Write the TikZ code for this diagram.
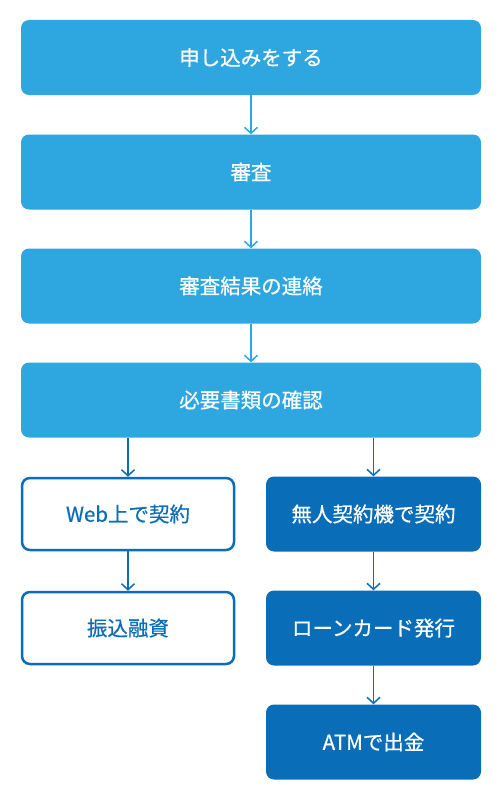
\documentclass[tikz,border=0pt]{standalone}
\usepackage{fontspec}
\newfontfamily\jp{Noto Sans CJK JP}[FakeBold=0.6]
\usetikzlibrary{arrows.meta}
\definecolor{lightb}{HTML}{2EA7E0}
\definecolor{darkb}{HTML}{0A6DB7}
\begin{document}
\begin{tikzpicture}[x=1pt,y=-1pt,
  base/.style={rounded corners=8pt, minimum width=460pt, minimum height=75pt, inner sep=0pt, font=\jp\fontsize{20.5}{24}\selectfont},
  lbox/.style={base, fill=lightb, text=white},
  dbox/.style={base, minimum width=215pt, fill=darkb, text=white},
  wbox/.style={base, minimum width=212pt, minimum height=72pt, draw=darkb, line width=2.5pt, fill=white, text=darkb},
  larr/.style={draw=lightb, line width=1.5pt, -{Straight Barb[length=6pt,width=13pt,line width=1.5pt]}},
  darr/.style={draw=darkb, line width=1.5pt, -{Straight Barb[length=6pt,width=13pt,line width=1.5pt]}}]
\useasboundingbox (0,0) rectangle (500,800);
\node[lbox] (a) at (251,57.5) {申し込みをする};
\node[lbox] (b) at (251,172) {審査};
\node[lbox] (c) at (251,286) {審査結果の連絡};
\node[lbox] (d) at (251,400) {必要書類の確認};
\node[wbox] (e) at (128,514) {Web上で契約};
\node[wbox] (f) at (128,628) {振込融資};
\node[dbox] (g) at (373.5,514) {無人契約機で契約};
\node[dbox] (h) at (373.5,628) {ローンカード発行};
\node[dbox] (i) at (373.5,742) {ATMで出金};
\draw[larr] (a) -- (b);
\draw[larr] (b) -- (c);
\draw[larr] (c) -- (d);
\draw[darr] (d.south -| e) -- (e);
\draw[darr] (d.south -| g) -- (g);
\draw[darr] (e) -- (f);
\draw[darr] (g) -- (h);
\draw[darr] (h) -- (i);
\end{tikzpicture}
\end{document}
